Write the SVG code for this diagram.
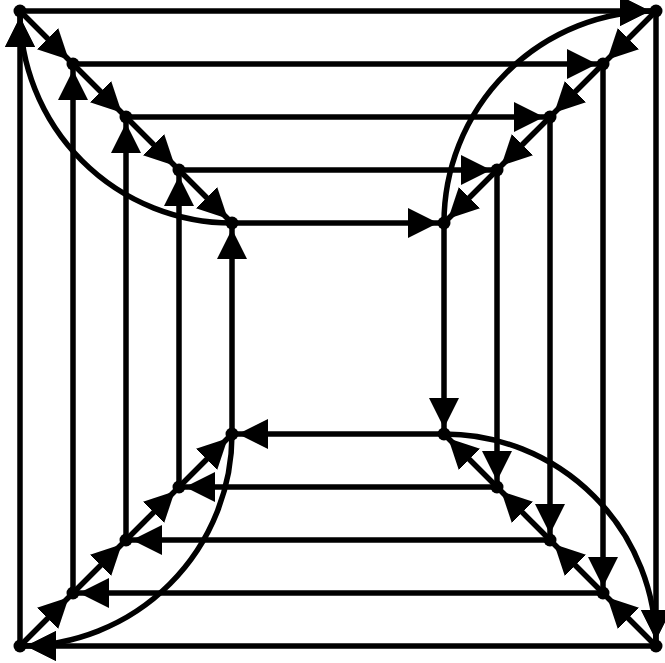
<svg xmlns="http://www.w3.org/2000/svg" width="665" height="663" viewBox="0 0 665 663">
<style>
.e{stroke:#000;stroke-width:5.5;fill:none;marker-end:url(#ah)}
.n{fill:#000}
</style>
<defs>
<marker id="ah" markerUnits="userSpaceOnUse" markerWidth="40" markerHeight="32" viewBox="0 0 40 32" refX="36" refY="15" orient="auto">
<path d="M0,0 L30,15 L0,30 z" fill="#000"/>
</marker>
</defs>
<rect width="665" height="663" fill="#fff"/>
<g id="connectors">
<path class="e" d="M20,11 L656,11"/>
<path class="e" d="M656,11 L656,646"/>
<path class="e" d="M656,646 L20,646"/>
<path class="e" d="M20,646 L20,11"/>
<path class="e" d="M73,64 L603,64"/>
<path class="e" d="M603,64 L603,593"/>
<path class="e" d="M603,593 L73,593"/>
<path class="e" d="M73,593 L73,64"/>
<path class="e" d="M126,117 L550,117"/>
<path class="e" d="M550,117 L550,540"/>
<path class="e" d="M550,540 L126,540"/>
<path class="e" d="M126,540 L126,117"/>
<path class="e" d="M179,170 L497,170"/>
<path class="e" d="M497,170 L497,487"/>
<path class="e" d="M497,487 L179,487"/>
<path class="e" d="M179,487 L179,170"/>
<path class="e" d="M232,223 L444,223"/>
<path class="e" d="M444,223 L444,434"/>
<path class="e" d="M444,434 L232,434"/>
<path class="e" d="M232,434 L232,223"/>
<path class="e" d="M20,11 L73,64"/>
<path class="e" d="M73,64 L126,117"/>
<path class="e" d="M126,117 L179,170"/>
<path class="e" d="M179,170 L232,223"/>
<path class="e" d="M656,11 L603,64"/>
<path class="e" d="M603,64 L550,117"/>
<path class="e" d="M550,117 L497,170"/>
<path class="e" d="M497,170 L444,223"/>
<path class="e" d="M656,646 L603,593"/>
<path class="e" d="M603,593 L550,540"/>
<path class="e" d="M550,540 L497,487"/>
<path class="e" d="M497,487 L444,434"/>
<path class="e" d="M20,646 L73,593"/>
<path class="e" d="M73,593 L126,540"/>
<path class="e" d="M126,540 L179,487"/>
<path class="e" d="M179,487 L232,434"/>
<path class="e" d="M232,223 A212,212 0 0 1 20,11"/>
<path class="e" d="M444,223 A212,212 0 0 1 656,11"/>
<path class="e" d="M444,434 A212,212 0 0 1 656,646"/>
<path class="e" d="M232,434 A212,212 0 0 1 20,646"/>
</g>
<g id="n0tl"><circle class="n" cx="20" cy="11" r="6.5"/></g>
<g id="n0tr"><circle class="n" cx="656" cy="11" r="6.5"/></g>
<g id="n0br"><circle class="n" cx="656" cy="646" r="6.5"/></g>
<g id="n0bl"><circle class="n" cx="20" cy="646" r="6.5"/></g>
<g id="n1tl"><circle class="n" cx="73" cy="64" r="6.5"/></g>
<g id="n1tr"><circle class="n" cx="603" cy="64" r="6.5"/></g>
<g id="n1br"><circle class="n" cx="603" cy="593" r="6.5"/></g>
<g id="n1bl"><circle class="n" cx="73" cy="593" r="6.5"/></g>
<g id="n2tl"><circle class="n" cx="126" cy="117" r="6.5"/></g>
<g id="n2tr"><circle class="n" cx="550" cy="117" r="6.5"/></g>
<g id="n2br"><circle class="n" cx="550" cy="540" r="6.5"/></g>
<g id="n2bl"><circle class="n" cx="126" cy="540" r="6.5"/></g>
<g id="n3tl"><circle class="n" cx="179" cy="170" r="6.5"/></g>
<g id="n3tr"><circle class="n" cx="497" cy="170" r="6.5"/></g>
<g id="n3br"><circle class="n" cx="497" cy="487" r="6.5"/></g>
<g id="n3bl"><circle class="n" cx="179" cy="487" r="6.5"/></g>
<g id="n4tl"><circle class="n" cx="232" cy="223" r="6.5"/></g>
<g id="n4tr"><circle class="n" cx="444" cy="223" r="6.5"/></g>
<g id="n4br"><circle class="n" cx="444" cy="434" r="6.5"/></g>
<g id="n4bl"><circle class="n" cx="232" cy="434" r="6.5"/></g>
</svg>
